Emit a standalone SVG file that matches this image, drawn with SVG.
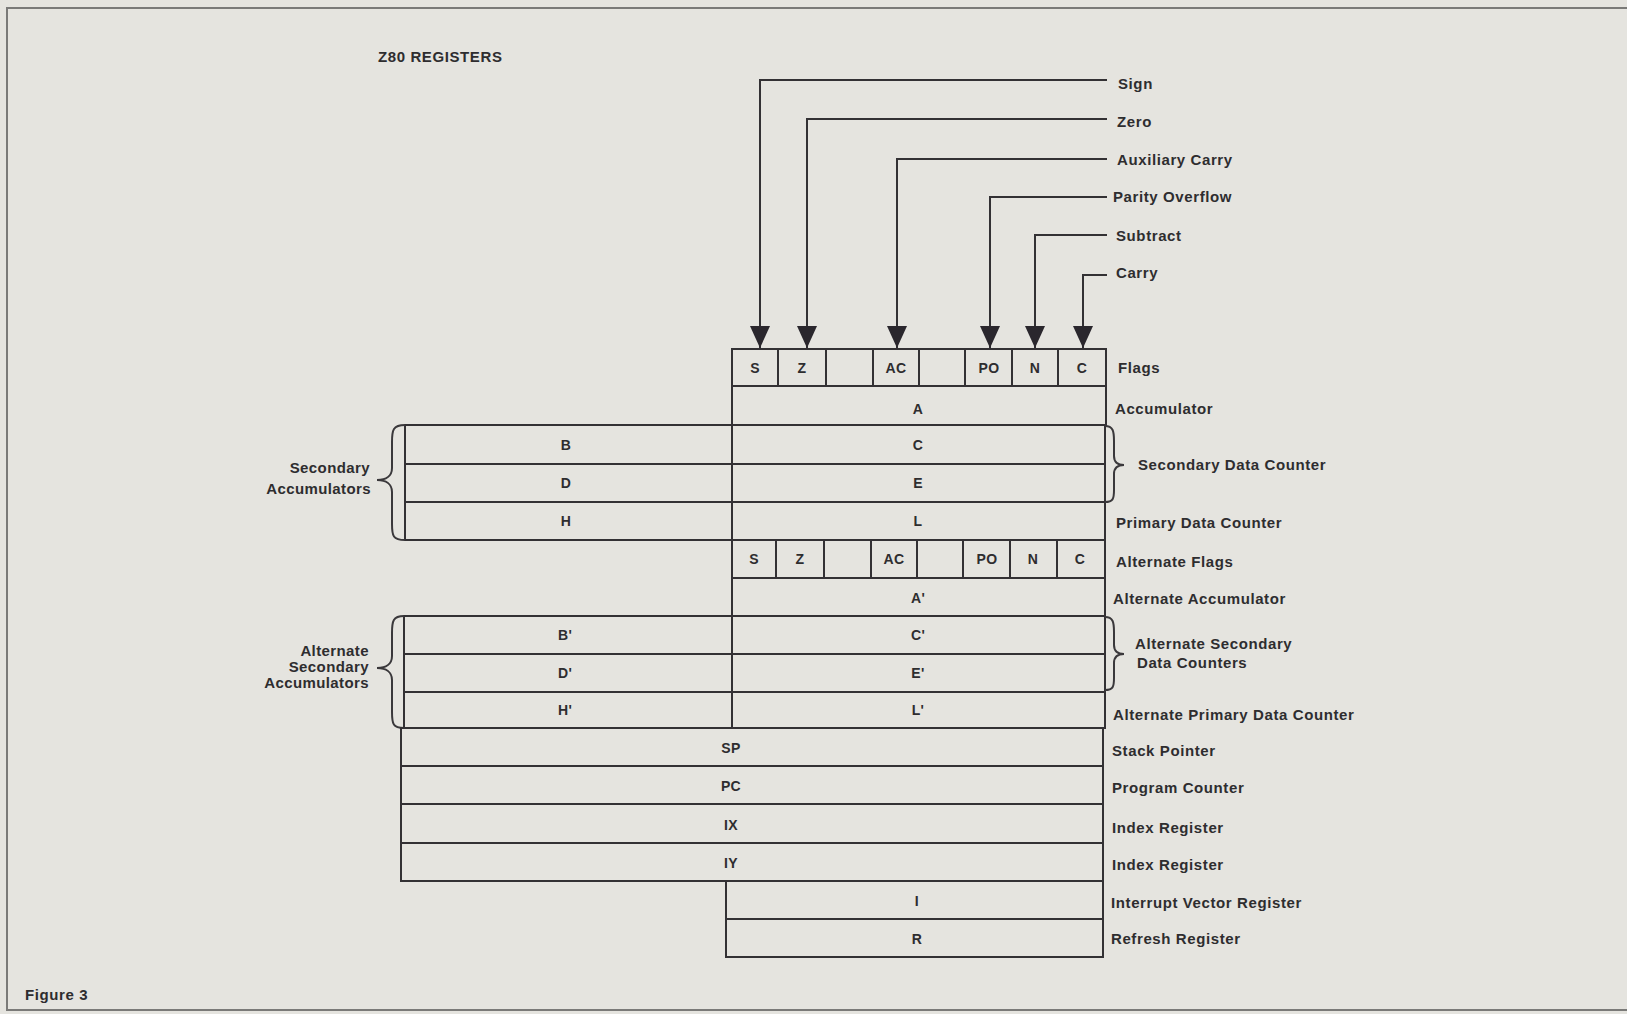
<svg xmlns="http://www.w3.org/2000/svg" width="1627" height="1014" viewBox="0 0 1627 1014">
<defs>
<style>
text{font-family:"Liberation Sans",Arial,Helvetica,sans-serif;font-weight:bold;fill:#2e2d2f;}
.lbl{font-size:15px;letter-spacing:0.6px;}
.side{font-size:15px;letter-spacing:0.4px;text-anchor:end;}
.reg{font-size:14px;letter-spacing:0.4px;text-anchor:middle;}
.box{fill:none;stroke:#333134;stroke-width:2;}
.ln{fill:none;stroke:#333134;stroke-width:2;}
.brace{fill:none;stroke:#3a383b;stroke-width:2;}
</style>
<marker id="arr" viewBox="0 0 22 20" refX="22" refY="10" markerWidth="22" markerHeight="20" markerUnits="userSpaceOnUse" orient="auto">
<path d="M0 0 L22 10 L0 20 Z" fill="#2a272d"/>
</marker>
</defs>
<rect x="0" y="0" width="1627" height="1014" fill="#e5e4df"/>
<path d="M1627 8 L7 8 L7 1010 L1627 1010" fill="none" stroke="#7a7a78" stroke-width="2"/>

<text class="lbl" x="378" y="62">Z80 REGISTERS</text>
<text class="lbl" x="25" y="1000">Figure 3</text>

<g id="connectors">
<path class="ln" d="M1107 80 L760 80 L760 348" marker-end="url(#arr)"/>
<path class="ln" d="M1107 119 L807 119 L807 348" marker-end="url(#arr)"/>
<path class="ln" d="M1107 159 L897 159 L897 348" marker-end="url(#arr)"/>
<path class="ln" d="M1107 197 L990 197 L990 348" marker-end="url(#arr)"/>
<path class="ln" d="M1107 235 L1035 235 L1035 348" marker-end="url(#arr)"/>
<path class="ln" d="M1107 275 L1083 275 L1083 348" marker-end="url(#arr)"/>
</g>

<g id="flag-labels">
<text class="lbl" x="1118" y="89">Sign</text>
<text class="lbl" x="1117" y="127">Zero</text>
<text class="lbl" x="1117" y="165">Auxiliary Carry</text>
<text class="lbl" x="1113" y="202">Parity Overflow</text>
<text class="lbl" x="1116" y="241">Subtract</text>
<text class="lbl" x="1116" y="278">Carry</text>
</g>

<g id="flags">
<rect class="box" x="732" y="349" width="374" height="37"/>
<path class="ln" d="M778 349 V386 M826 349 V386 M873 349 V386 M919 349 V386 M965 349 V386 M1012 349 V386 M1058 349 V386"/>
<text class="reg" x="755" y="373">S</text>
<text class="reg" x="802" y="373">Z</text>
<text class="reg" x="896" y="373">AC</text>
<text class="reg" x="989" y="373">PO</text>
<text class="reg" x="1035" y="373">N</text>
<text class="reg" x="1082" y="373">C</text>
<text class="lbl" x="1118" y="373">Flags</text>
</g>

<g id="accumulator">
<rect class="box" x="732" y="386" width="374" height="39"/>
<text class="reg" x="918" y="414">A</text>
<text class="lbl" x="1115" y="414">Accumulator</text>
</g>

<g id="main-pairs">
<rect class="box" x="405" y="425" width="700" height="115"/>
<path class="ln" d="M405 464 H1105 M405 502 H1105 M732 425 V540"/>
<text class="reg" x="566" y="450">B</text>
<text class="reg" x="566" y="488">D</text>
<text class="reg" x="566" y="526">H</text>
<text class="reg" x="918" y="450">C</text>
<text class="reg" x="918" y="488">E</text>
<text class="reg" x="918" y="526">L</text>
</g>

<g id="secondary-accumulators">
<path class="brace" d="M405 425 C393 425 392 430 392 442 L392 468 C392 476 386 480 377 480 C386 480 392 484 392 492 L392 524 C392 536 393 540 405 540"/>
<text class="side" x="370" y="473">Secondary</text>
<text class="side" x="371" y="494">Accumulators</text>
</g>

<g id="secondary-data-counter">
<path class="brace" d="M1105 426 C1113 426 1114 431 1114 441 L1114 456 C1114 462 1118 465 1124 465 C1118 465 1114 468 1114 474 L1114 490 C1114 499 1113 502 1105 502"/>
<text class="lbl" x="1138" y="470">Secondary Data Counter</text>
</g>
<text class="lbl" x="1116" y="528">Primary Data Counter</text>

<g id="alternate-flags">
<rect class="box" x="732" y="540" width="373" height="38"/>
<path class="ln" d="M776 540 V578 M824 540 V578 M871 540 V578 M917 540 V578 M963 540 V578 M1010 540 V578 M1057 540 V578"/>
<text class="reg" x="754" y="564">S</text>
<text class="reg" x="800" y="564">Z</text>
<text class="reg" x="894" y="564">AC</text>
<text class="reg" x="987" y="564">PO</text>
<text class="reg" x="1033" y="564">N</text>
<text class="reg" x="1080" y="564">C</text>
<text class="lbl" x="1116" y="567">Alternate Flags</text>
</g>

<g id="alternate-accumulator">
<rect class="box" x="732" y="578" width="373" height="38"/>
<text class="reg" x="918" y="603">A'</text>
<text class="lbl" x="1113" y="604">Alternate Accumulator</text>
</g>

<g id="alternate-pairs">
<rect class="box" x="404" y="616" width="701" height="112"/>
<path class="ln" d="M404 654 H1105 M404 692 H1105 M732 616 V728"/>
<text class="reg" x="565" y="640">B'</text>
<text class="reg" x="565" y="678">D'</text>
<text class="reg" x="565" y="715">H'</text>
<text class="reg" x="918" y="640">C'</text>
<text class="reg" x="918" y="678">E'</text>
<text class="reg" x="918" y="715">L'</text>
</g>

<g id="alternate-secondary-accumulators">
<path class="brace" d="M404 616 C393 616 392 621 392 633 L392 656 C392 664 386 668 377 668 C386 668 392 672 392 680 L392 712 C392 724 393 728 404 728"/>
<text class="side" x="369" y="656">Alternate</text>
<text class="side" x="369" y="672">Secondary</text>
<text class="side" x="369" y="688">Accumulators</text>
</g>

<g id="alternate-secondary-data-counters">
<path class="brace" d="M1105 617 C1113 617 1114 622 1114 632 L1114 645 C1114 651 1118 654 1124 654 C1118 654 1114 657 1114 663 L1114 678 C1114 687 1113 690 1105 690"/>
<text class="lbl" x="1135" y="649">Alternate Secondary</text>
<text class="lbl" x="1137" y="668">Data Counters</text>
</g>
<text class="lbl" x="1113" y="720">Alternate Primary Data Counter</text>

<g id="stack-pointer">
<rect class="box" x="401" y="728" width="702" height="38"/>
<text class="reg" x="731" y="753">SP</text>
<text class="lbl" x="1112" y="756">Stack Pointer</text>
</g>
<g id="program-counter">
<rect class="box" x="401" y="766" width="702" height="38"/>
<text class="reg" x="731" y="791">PC</text>
<text class="lbl" x="1112" y="793">Program Counter</text>
</g>
<g id="ix">
<rect class="box" x="401" y="804" width="702" height="39"/>
<text class="reg" x="731" y="830">IX</text>
<text class="lbl" x="1112" y="833">Index Register</text>
</g>
<g id="iy">
<rect class="box" x="401" y="843" width="702" height="38"/>
<text class="reg" x="731" y="868">IY</text>
<text class="lbl" x="1112" y="870">Index Register</text>
</g>
<g id="interrupt-vector">
<rect class="box" x="726" y="881" width="377" height="38"/>
<text class="reg" x="917" y="906">I</text>
<text class="lbl" x="1111" y="908">Interrupt Vector Register</text>
</g>
<g id="refresh">
<rect class="box" x="726" y="919" width="377" height="38"/>
<text class="reg" x="917" y="944">R</text>
<text class="lbl" x="1111" y="944">Refresh Register</text>
</g>
</svg>
